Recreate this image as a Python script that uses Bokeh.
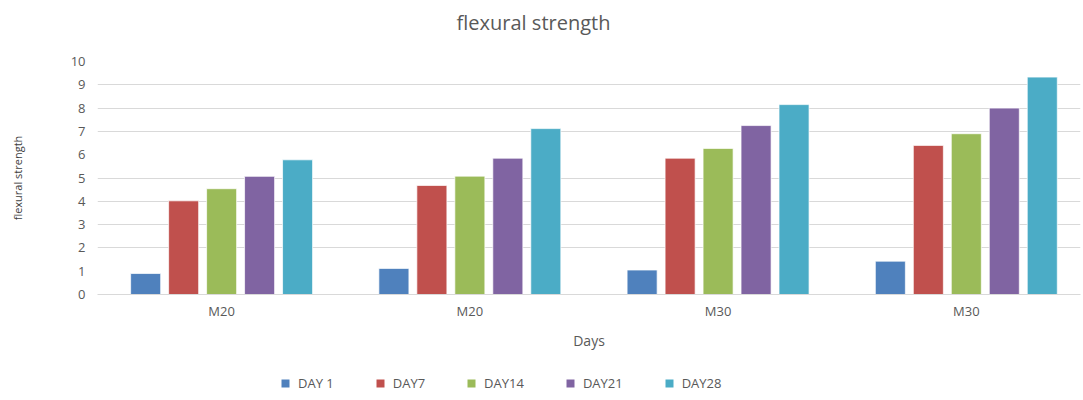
from bokeh.plotting import figure
from bokeh.layouts import column
from bokeh.models import ColumnDataSource, FixedTicker, Legend, LegendItem, Range1d, Label
from bokeh.embed import file_html
from bokeh.resources import INLINE

groups = ["M20", "M20", "M30", "M30"]
series = ["DAY 1", "DAY7", "DAY14", "DAY21", "DAY28"]
day1 = [0.9, 1.12, 1.05, 1.43]
day7 = [4.02, 4.68, 5.85, 6.4]
day14 = [4.54, 5.08, 6.27, 6.9]
day21 = [5.07, 5.85, 7.25, 8.0]
day28 = [5.78, 7.12, 8.15, 9.33]
values = [day1, day7, day14, day21, day28]
colors = ["#4F81BD", "#C0504D", "#9BBB59", "#8064A2", "#4BACC6"]
y_ticks = [0, 1, 2, 3, 4, 5, 6, 7, 8, 9, 10]
grid_ticks = [0, 2, 3, 4, 5, 7, 8, 9, 10]
title_text = "flexural strength"

FONT = "Open Sans"
GREY = "#595959"


def strip(height):
    f = figure(width=1083, height=height, output_backend="svg", toolbar_location=None,
               title=None, x_range=Range1d(0, 1), y_range=Range1d(0, 1),
               x_axis_type=None, y_axis_type=None,
               min_border_left=0, min_border_right=0, min_border_top=0, min_border_bottom=0)
    f.outline_line_color = None
    f.grid.grid_line_color = None
    return f


# title strip
tf = strip(40)
tf.add_layout(Label(x=436, y=18, x_units="screen", y_units="screen", text=title_text,
                    text_align="center", text_baseline="middle", text_font=FONT,
                    text_font_size="20px", text_color=GREY))

# main chart
p = figure(frame_width=983, frame_height=233, output_backend="svg", toolbar_location=None,
           title=None, x_range=Range1d(-0.5, 3.46), y_range=Range1d(0, 10),
           min_border_left=97, min_border_right=3, min_border_top=21, min_border_bottom=66)

step = 0.153
bw = 0.121
xs = list(range(len(groups)))
for i, (name, vals, col) in enumerate(zip(series, values, colors)):
    off = (i - 2) * step
    src = ColumnDataSource(dict(x=[x + off for x in xs], top=vals))
    p.vbar(x="x", top="top", width=bw, source=src, fill_color=col,
           line_color="white", line_alpha=0.7, line_width=1)

p.outline_line_color = None
p.background_fill_color = "white"
p.border_fill_color = "white"

p.xgrid.grid_line_color = None
p.ygrid.ticker = FixedTicker(ticks=grid_ticks)
p.ygrid.grid_line_color = "#d9d9d9"
p.ygrid.grid_line_width = 1

p.yaxis.ticker = FixedTicker(ticks=y_ticks)
p.yaxis.axis_line_color = None
p.yaxis.major_tick_line_color = None
p.yaxis.minor_tick_line_color = None
p.yaxis.major_tick_out = 0
p.yaxis.major_tick_in = 0
p.yaxis.minor_tick_out = 0
p.yaxis.major_label_standoff = 12
p.yaxis.major_label_text_font = FONT
p.yaxis.major_label_text_font_size = "13px"
p.yaxis.major_label_text_color = GREY
p.yaxis.axis_label = "flexural strength"
p.yaxis.axis_label_text_font = FONT
p.yaxis.axis_label_text_font_size = "11px"
p.yaxis.axis_label_text_font_style = "normal"
p.yaxis.axis_label_text_color = "#404040"
p.yaxis.axis_label_standoff = 43

p.xaxis.ticker = FixedTicker(ticks=xs)
p.xaxis.major_label_overrides = {x: g for x, g in zip(xs, groups)}
p.xaxis.axis_line_color = "#d9d9d9"
p.xaxis.major_tick_line_color = None
p.xaxis.minor_tick_line_color = None
p.xaxis.major_tick_out = 0
p.xaxis.major_tick_in = 0
p.xaxis.minor_tick_out = 0
p.xaxis.major_label_standoff = 7
p.xaxis.major_label_text_font = FONT
p.xaxis.major_label_text_font_size = "13px"
p.xaxis.major_label_text_color = GREY
p.xaxis.axis_label = "Days"
p.xaxis.axis_label_text_font = FONT
p.xaxis.axis_label_text_font_size = "14px"
p.xaxis.axis_label_text_font_style = "normal"
p.xaxis.axis_label_text_color = GREY
p.xaxis.axis_label_standoff = 8

# legend strip
lf = strip(40)
items = []
for name, col in zip(series, colors):
    r = lf.vbar(x=[0.5], top=[0], width=0.1, fill_color=col, line_color=None)
    items.append(LegendItem(label=name, renderers=[r]))
legend = Legend(items=items, orientation="horizontal", location=(183, 8),
                label_text_font=FONT, label_text_font_size="13px",
                label_text_color=GREY, glyph_width=10, glyph_height=10,
                label_height=14, label_standoff=8, spacing=41,
                border_line_color=None, background_fill_alpha=0,
                margin=0, padding=0)
lf.add_layout(legend, "center")

layout = column(tf, p, lf, spacing=0)
open("out.html", "w").write(file_html(layout, INLINE))
